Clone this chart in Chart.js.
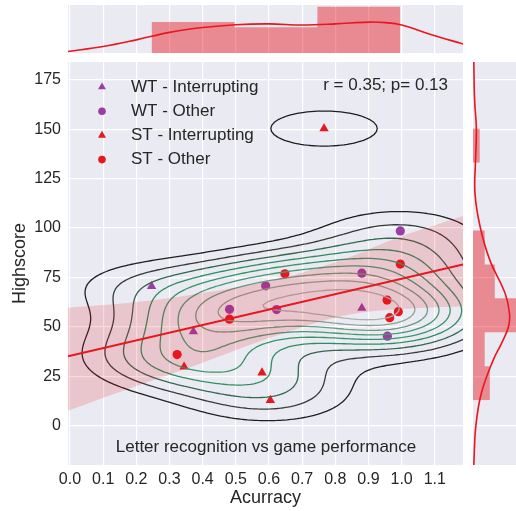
<!DOCTYPE html>
<html>
<head>
<meta charset="utf-8">
<script src="https://cdn.jsdelivr.net/npm/chart.js@4.4.0/dist/chart.umd.min.js"></script>
<style>
  html, body { margin: 0; padding: 0; background: #fff; }
  #wrap { position: relative; width: 516px; height: 511px; overflow: hidden; }
  canvas { position: absolute; top: 0; }
</style>
</head>
<body>
<div id="wrap">
  <canvas id="main" width="516" height="511" style="left:0;width:516px;height:511px"></canvas>
  <canvas id="top" width="516" height="60" style="left:0;width:516px;height:60px"></canvas>
  <canvas id="side" width="50" height="511" style="left:466px;width:50px;height:511px"></canvas>
</div>
<script>
// ---- data ----
// scatter groups (Acurracy, Highscore)
const wtIntX = [0.246, 0.372, 0.880];
const wtIntY = [70.5, 47.5, 59.4];
const wtOthX = [0.481, 0.590, 0.623, 0.880, 0.996, 0.957];
const wtOthY = [58.8, 70.7, 58.7, 77.1, 98.5, 45.2];
const stIntX = [0.766, 0.344, 0.579, 0.604];
const stIntY = [150.3, 29.7, 26.7, 12.8];
const stOthX = [0.323, 0.481, 0.648, 0.996, 0.956, 0.964, 0.990];
const stOthY = [35.9, 53.8, 76.8, 81.7, 63.5, 54.6, 57.6];

const xTicks = [0, 0.1, 0.2, 0.3, 0.4, 0.5, 0.6, 0.7, 0.8, 0.9, 1.0, 1.1];
const yTicks = [0, 25, 50, 75, 100, 125, 150, 175];

// regression line + confidence band
const regX = [-0.006, 1.185];
const regY = [35.0, 81.5];
const bandX = [-0.006, 0.2, 0.371, 0.623, 0.823, 0.974, 1.185];
const bandLow = [7.5, 20.0, 30.0, 45.5, 55.5, 58.7, 60.4];
const bandHigh = [59.6, 62.5, 66.3, 73.9, 84.0, 94.2, 106.0];

// top marginal (Acurracy): histogram + kde
const topEdges = [0.246, 0.496, 0.746, 0.996];
const topDens = [1.2, 1.0, 1.8];
const topKdeX = [-0.006, 0.1, 0.2, 0.3, 0.4, 0.5, 0.6, 0.7, 0.8, 0.9, 0.95, 1.0, 1.09, 1.185];
const topKdeY = [0.06, 0.25, 0.51, 0.8, 0.99, 1.1, 1.13, 1.09, 1.13, 1.2, 1.18, 1.09, 0.71, 0.35];

// right marginal (Highscore): histogram + kde
const sideEdges = [12.8, 30.0, 47.2, 64.4, 81.5, 98.7, 115.9, 133.1, 150.3];
const sideDens = [0.0085, 0.0059, 0.0233, 0.0110, 0.0059, 0, 0, 0.0034];
const sideKdeY = [184, 165, 150, 135, 117.5, 100.6, 83.7, 66.9, 56.8, 50, 41.6, 33.1, 16.3, -0.6, -20];
const sideKdeD = [0.0004, 0.0008, 0.0017, 0.0013, 0.001, 0.0036, 0.0085, 0.0162, 0.0184, 0.0179, 0.0144, 0.0102, 0.0042, 0.0014, 0.0004];

const legendLabels = ['WT - Interrupting', 'WT - Other', 'ST - Interrupting', 'ST - Other'];
const statText = 'r = 0.35; p= 0.13';
const panelTitle = 'Letter recognition vs game performance';

// kde settings for the joint contours
const kdeBwX = 0.19, kdeBwY = 10.5;
const kdeLowLevel = 0.7;   // lowest contour, relative to one kernel peak
const kdeLevels = 9;

const xLim = [-0.006, 1.185];
const yLim = [-20, 184];
const purple = '#9b3da5';
const red = '#e8161e';
const bg = '#eaeaf2';
const txt = '#262626';

Chart.defaults.font.family = "'Liberation Sans', Arial, sans-serif";
Chart.defaults.color = txt;
Chart.defaults.animation = false;

const toPts = (xs, ys) => xs.map((x, i) => ({x: x, y: ys[i]}));

const bgPlugin = {
  id: 'bg',
  beforeDraw(chart) {
    const a = chart.chartArea, ctx = chart.ctx;
    ctx.save();
    ctx.fillStyle = bg;
    ctx.fillRect(a.left, a.top, a.right - a.left, a.bottom - a.top);
    ctx.restore();
  }
};

// ---- contours from a 2D gaussian kde of the scatter points ----
function hexToRgb(h) {
  return [parseInt(h.substr(1, 2), 16), parseInt(h.substr(3, 2), 16), parseInt(h.substr(5, 2), 16)];
}
const contourStops = [[0, '#1f1f1f'], [0.15, '#3a423d'], [0.35, '#2e8b5e'], [0.6, '#3f9a6d'], [0.82, '#7f9d8a'], [1, '#a9b1ab']];
function contourColor(t) {
  for (let i = 1; i < contourStops.length; i++) {
    if (t <= contourStops[i][0]) {
      const a = contourStops[i - 1], b = contourStops[i];
      const f = (t - a[0]) / (b[0] - a[0]);
      const ca = hexToRgb(a[1]), cb = hexToRgb(b[1]);
      return 'rgb(' + ca.map((v, k) => Math.round(v + (cb[k] - v) * f)).join(',') + ')';
    }
  }
  return contourStops[contourStops.length - 1][1];
}

let contourCache = null;
function buildContours() {
  const pts = [];
  [[wtIntX, wtIntY], [wtOthX, wtOthY], [stIntX, stIntY], [stOthX, stOthY]].forEach(g => {
    g[0].forEach((x, i) => pts.push([x, g[1][i]]));
  });
  const nx = 170, ny = 170;
  const gx0 = -0.25, gx1 = 1.45, gy0 = -45, gy1 = 215;
  const xs = [], ys = [];
  for (let i = 0; i < nx; i++) xs.push(gx0 + (gx1 - gx0) * i / (nx - 1));
  for (let j = 0; j < ny; j++) ys.push(gy0 + (gy1 - gy0) * j / (ny - 1));
  const z = [];
  let zmax = 0;
  for (let j = 0; j < ny; j++) {
    const row = new Float64Array(nx);
    for (let i = 0; i < nx; i++) {
      let s = 0;
      for (const p of pts) {
        const dx = (xs[i] - p[0]) / kdeBwX, dy = (ys[j] - p[1]) / kdeBwY;
        s += Math.exp(-0.5 * (dx * dx + dy * dy));
      }
      row[i] = s;
      if (s > zmax) zmax = s;
    }
    z.push(row);
  }
  const levels = [];
  for (let k = 0; k < kdeLevels; k++) levels.push(kdeLowLevel + k * (zmax - kdeLowLevel) / kdeLevels);

  const out = levels.map(L => {
    const segs = [];
    const edgePt = (e, i, j) => {
      let v1, v2, x1, y1, x2, y2;
      if (e === 0) { v1 = z[j][i]; v2 = z[j][i + 1]; x1 = xs[i]; y1 = ys[j]; x2 = xs[i + 1]; y2 = ys[j]; }
      else if (e === 1) { v1 = z[j][i + 1]; v2 = z[j + 1][i + 1]; x1 = xs[i + 1]; y1 = ys[j]; x2 = xs[i + 1]; y2 = ys[j + 1]; }
      else if (e === 2) { v1 = z[j + 1][i]; v2 = z[j + 1][i + 1]; x1 = xs[i]; y1 = ys[j + 1]; x2 = xs[i + 1]; y2 = ys[j + 1]; }
      else { v1 = z[j][i]; v2 = z[j + 1][i]; x1 = xs[i]; y1 = ys[j]; x2 = xs[i]; y2 = ys[j + 1]; }
      const f = (L - v1) / (v2 - v1);
      return [x1 + (x2 - x1) * f, y1 + (y2 - y1) * f];
    };
    for (let j = 0; j < ny - 1; j++) {
      for (let i = 0; i < nx - 1; i++) {
        const a = z[j][i], b = z[j][i + 1], c = z[j + 1][i + 1], d = z[j + 1][i];
        const idx = (a > L ? 1 : 0) | (b > L ? 2 : 0) | (c > L ? 4 : 0) | (d > L ? 8 : 0);
        if (idx === 0 || idx === 15) continue;
        const center = (a + b + c + d) / 4 > L;
        let pairs;
        switch (idx) {
          case 1: case 14: pairs = [[3, 0]]; break;
          case 2: case 13: pairs = [[0, 1]]; break;
          case 3: case 12: pairs = [[3, 1]]; break;
          case 4: case 11: pairs = [[1, 2]]; break;
          case 6: case 9: pairs = [[0, 2]]; break;
          case 7: case 8: pairs = [[3, 2]]; break;
          case 5: pairs = center ? [[0, 1], [2, 3]] : [[3, 0], [1, 2]]; break;
          case 10: pairs = center ? [[3, 0], [1, 2]] : [[0, 1], [2, 3]]; break;
        }
        for (const pr of pairs) segs.push([edgePt(pr[0], i, j), edgePt(pr[1], i, j)]);
      }
    }
    return segs;
  });
  return out;
}

const contourPlugin = {
  id: 'kdeContours',
  beforeDatasetDraw(chart, args) {
    if (args.index !== 2) return;
    if (!contourCache) contourCache = buildContours();
    const ctx = chart.ctx, a = chart.chartArea;
    const sx = chart.scales.x, sy = chart.scales.y;
    ctx.save();
    ctx.beginPath();
    ctx.rect(a.left, a.top, a.right - a.left, a.bottom - a.top);
    ctx.clip();
    ctx.lineWidth = 1.3;
    ctx.lineCap = 'round';
    contourCache.forEach((segs, k) => {
      ctx.strokeStyle = contourColor(k / (contourCache.length - 1));
      ctx.beginPath();
      for (const s of segs) {
        ctx.moveTo(sx.getPixelForValue(s[0][0]), sy.getPixelForValue(s[0][1]));
        ctx.lineTo(sx.getPixelForValue(s[1][0]), sy.getPixelForValue(s[1][1]));
      }
      ctx.stroke();
    });
    ctx.restore();
  }
};

const textPlugin = {
  id: 'panelText',
  afterDatasetsDraw(chart) {
    const ctx = chart.ctx, a = chart.chartArea;
    ctx.save();
    ctx.font = "17px 'Liberation Sans', Arial, sans-serif";
    ctx.fillStyle = txt;
    ctx.textBaseline = 'middle';
    const colors = [purple, purple, red, red];
    const shapes = ['tri', 'dot', 'tri', 'dot'];
    legendLabels.forEach((lab, i) => {
      const y = a.top + 25 + i * 24.2;
      const x = a.left + 34;
      ctx.fillStyle = colors[i];
      ctx.beginPath();
      if (shapes[i] === 'tri') {
        const r = 4.6;
        ctx.moveTo(x, y - r);
        ctx.lineTo(x + r * 0.866, y + r * 0.5);
        ctx.lineTo(x - r * 0.866, y + r * 0.5);
        ctx.closePath();
      } else {
        ctx.arc(x, y, 3.8, 0, Math.PI * 2);
      }
      ctx.fill();
      ctx.fillStyle = txt;
      ctx.textAlign = 'left';
      ctx.fillText(lab, a.left + 63, y);
    });
    ctx.textAlign = 'right';
    ctx.fillText(statText, a.right - 15, a.top + 23);
    ctx.textAlign = 'center';
    ctx.fillText(panelTitle, a.left + 198, a.bottom - 18);
    ctx.restore();
  }
};

const gridOpts = {color: '#ffffff', lineWidth: 1.2, drawTicks: false};

new Chart(document.getElementById('main'), {
  type: 'scatter',
  data: {
    datasets: [
      {type: 'line', data: toPts(bandX, bandLow), borderWidth: 0, pointRadius: 0, fill: false, tension: 0.35},
      {type: 'line', data: toPts(bandX, bandHigh), borderWidth: 0, pointRadius: 0, fill: '-1',
       backgroundColor: 'rgba(232,22,30,0.17)', tension: 0.35},
      {type: 'line', data: toPts(regX, regY), borderColor: red, borderWidth: 2, pointRadius: 0, fill: false},
      {label: legendLabels[0], data: toPts(wtIntX, wtIntY), pointStyle: 'triangle', pointRadius: 5.4,
       backgroundColor: purple, borderColor: purple, borderWidth: 0},
      {label: legendLabels[1], data: toPts(wtOthX, wtOthY), pointStyle: 'circle', pointRadius: 4.6,
       backgroundColor: purple, borderColor: purple, borderWidth: 0},
      {label: legendLabels[2], data: toPts(stIntX, stIntY), pointStyle: 'triangle', pointRadius: 5.4,
       backgroundColor: red, borderColor: red, borderWidth: 0},
      {label: legendLabels[3], data: toPts(stOthX, stOthY), pointStyle: 'circle', pointRadius: 4.6,
       backgroundColor: red, borderColor: red, borderWidth: 0}
    ]
  },
  options: {
    responsive: false,
    events: [],
    layout: {padding: {left: 0, top: 62, right: 53, bottom: 0}},
    plugins: {legend: {display: false}, tooltip: {enabled: false}},
    scales: {
      x: {
        type: 'linear', min: xLim[0], max: xLim[1],
        afterBuildTicks: s => { s.ticks = xTicks.map(v => ({value: v})); },
        afterFit: s => { s.height = 46; },
        grid: gridOpts, border: {display: false},
        ticks: {padding: 5, font: {size: 16}, color: txt, callback: v => Number(v).toFixed(1)},
        title: {display: true, text: 'Acurracy', font: {size: 18}, color: txt, padding: {bottom: 2}}
      },
      y: {
        type: 'linear', min: yLim[0], max: yLim[1],
        afterBuildTicks: s => { s.ticks = yTicks.map(v => ({value: v})); },
        afterFit: s => { s.width = 68; },
        grid: gridOpts, border: {display: false},
        ticks: {padding: 7, font: {size: 16}, color: txt},
        title: {display: true, text: 'Highscore', font: {size: 18}, color: txt, padding: {top: 9}}
      }
    }
  },
  plugins: [bgPlugin, contourPlugin, textPlugin]
});

// top marginal
const topHist = [];
topDens.forEach((d, i) => { topHist.push({x: topEdges[i], y: d}); topHist.push({x: topEdges[i + 1], y: d}); });
new Chart(document.getElementById('top'), {
  type: 'line',
  data: {
    datasets: [
      {data: topHist, borderWidth: 0, pointRadius: 0, fill: 'origin', backgroundColor: 'rgba(232,22,30,0.45)', tension: 0},
      {data: toPts(topKdeX, topKdeY), borderColor: red, borderWidth: 1.6, pointRadius: 0, fill: false, tension: 0.4}
    ]
  },
  options: {
    responsive: false,
    events: [],
    layout: {padding: {left: 68, top: 5, right: 53, bottom: 7}},
    plugins: {legend: {display: false}, tooltip: {enabled: false}},
    scales: {
      x: {
        type: 'linear', min: xLim[0], max: xLim[1],
        afterBuildTicks: s => { s.ticks = xTicks.map(v => ({value: v})); },
        afterFit: s => { s.height = 0; },
        grid: gridOpts, border: {display: false}, ticks: {display: false}
      },
      y: {type: 'linear', min: 0, max: 1.865, display: false}
    }
  },
  plugins: [bgPlugin]
});

// right marginal
const sideHist = [];
sideDens.forEach((d, i) => { sideHist.push({x: d, y: sideEdges[i]}); sideHist.push({x: d, y: sideEdges[i + 1]}); });
new Chart(document.getElementById('side'), {
  type: 'line',
  data: {
    datasets: [
      {data: sideHist, borderWidth: 0, pointRadius: 0, fill: 'origin', backgroundColor: 'rgba(232,22,30,0.45)', tension: 0},
      {data: toPts(sideKdeD, sideKdeY), borderColor: red, borderWidth: 1.6, pointRadius: 0, fill: false, tension: 0.4}
    ]
  },
  options: {
    indexAxis: 'y',
    responsive: false,
    events: [],
    layout: {padding: {left: 7, top: 62, right: 0, bottom: 46}},
    plugins: {legend: {display: false}, tooltip: {enabled: false}},
    scales: {
      x: {type: 'linear', min: 0, max: 0.0217, display: false},
      y: {
        type: 'linear', min: yLim[0], max: yLim[1],
        afterBuildTicks: s => { s.ticks = yTicks.map(v => ({value: v})); },
        afterFit: s => { s.width = 0; },
        grid: gridOpts, border: {display: false}, ticks: {display: false}
      }
    }
  },
  plugins: [bgPlugin]
});
</script>
</body>
</html>
